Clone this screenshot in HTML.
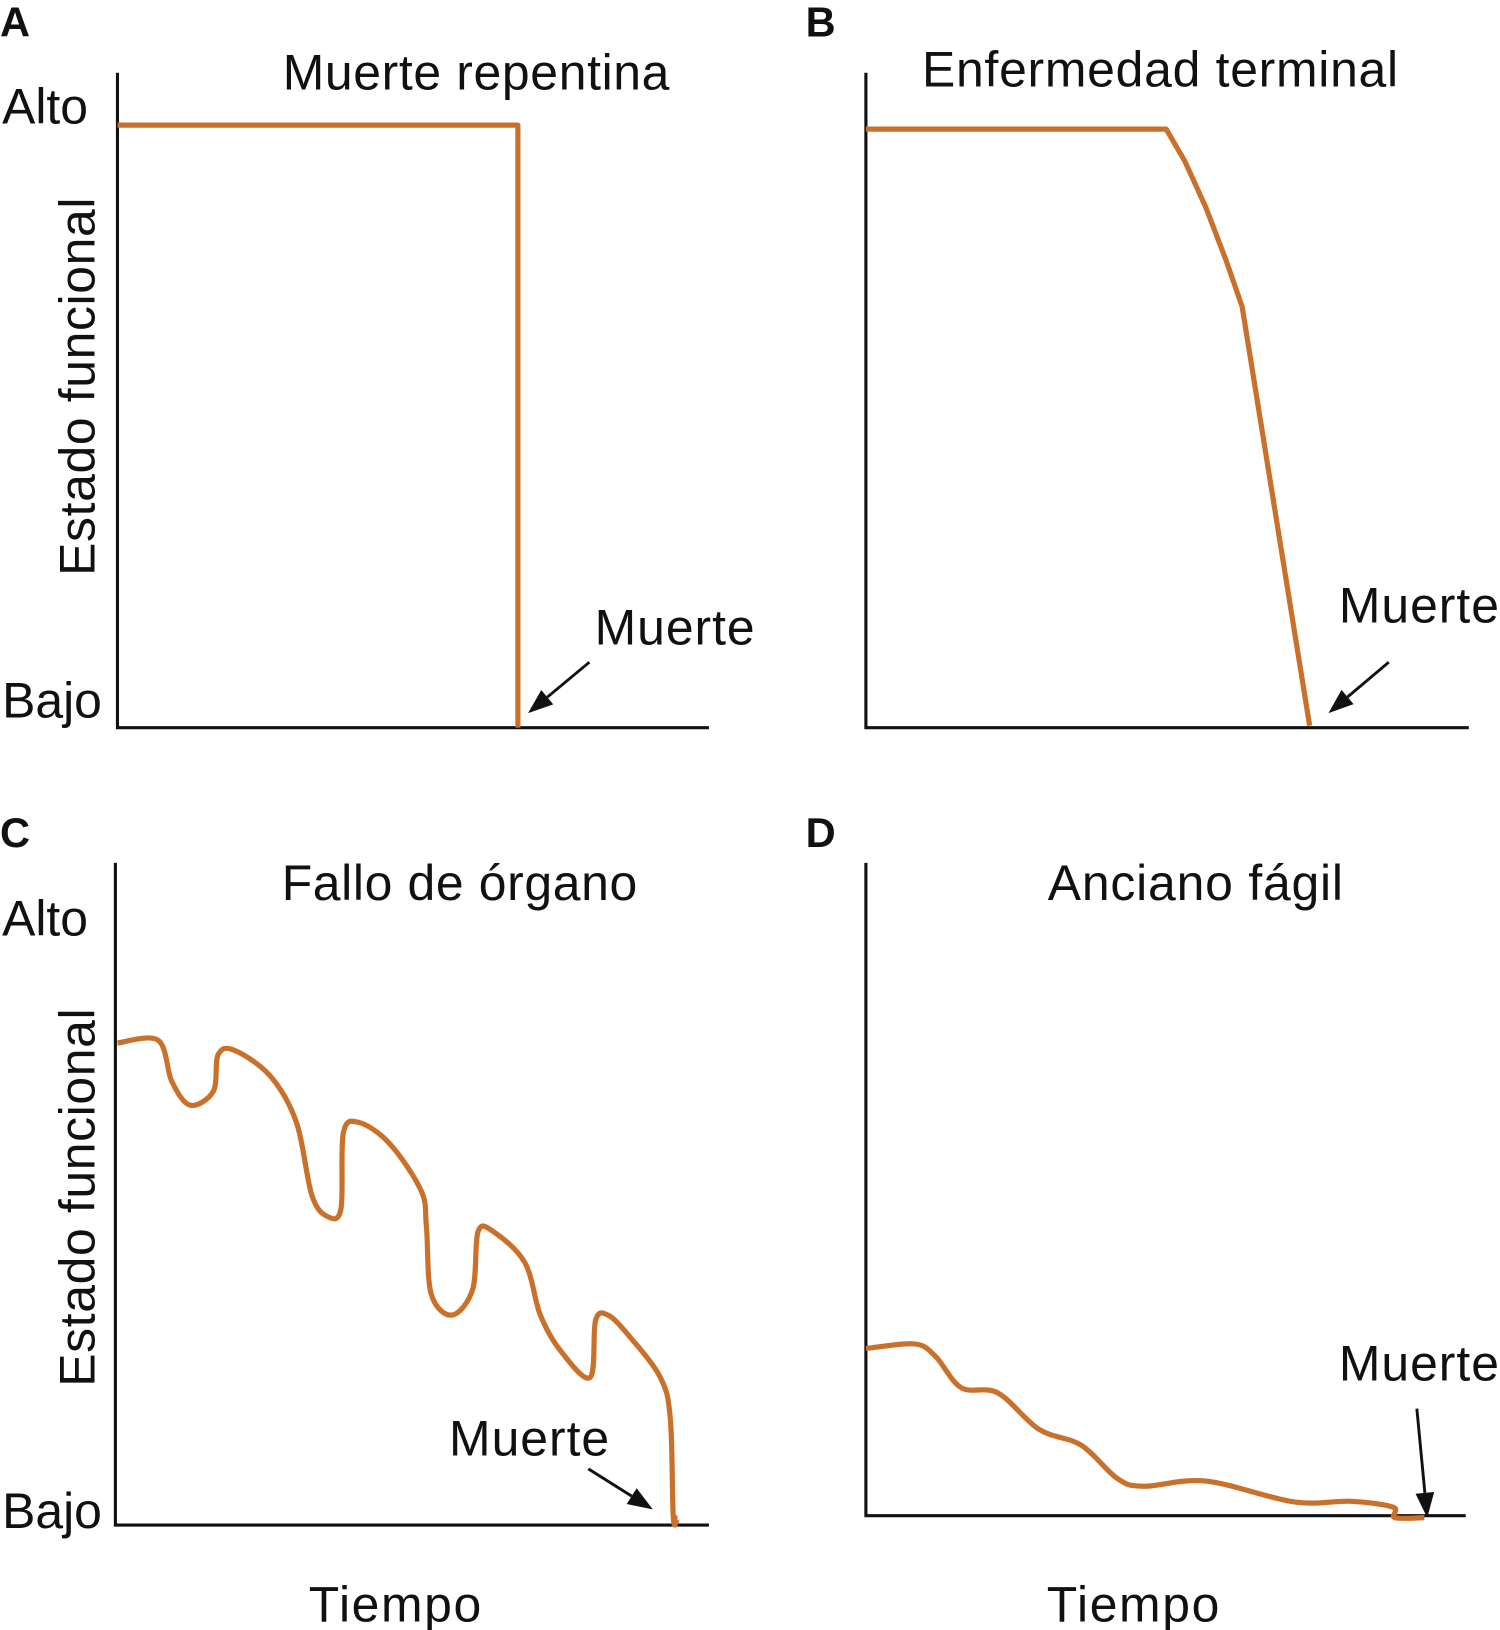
<!DOCTYPE html>
<html><head><meta charset="utf-8"><style>
html,body{margin:0;padding:0;background:#fff;}
svg{display:block;}
text{font-family:"Liberation Sans",Arial,sans-serif;fill:#111;}
</style></head><body>
<svg id="chart" width="1500" height="1630" viewBox="0 0 1443 1568" preserveAspectRatio="none" xmlns="http://www.w3.org/2000/svg">
<g id="static" font-size="48">
  <text x="0" y="35" font-weight="bold" font-size="40">A</text>
  <text x="775" y="35" font-weight="bold" font-size="40">B</text>
  <text x="0" y="815" font-weight="bold" font-size="40">C</text>
  <text x="775" y="815" font-weight="bold" font-size="40">D</text>
  <text x="458" y="86" text-anchor="middle" textLength="372">Muerte repentina</text>
  <text x="1116" y="83" text-anchor="middle" textLength="458">Enfermedad terminal</text>
  <text x="442" y="866" text-anchor="middle" textLength="342">Fallo de órgano</text>
  <text x="1150" y="866" text-anchor="middle" textLength="284">Anciano fágil</text>
  <text x="2" y="119">Alto</text>
  <text x="2" y="690">Bajo</text>
  <text x="2" y="900">Alto</text>
  <text x="2" y="1470">Bajo</text>
  <text transform="translate(91,372) rotate(-90)" text-anchor="middle" textLength="364">Estado funcional</text>
  <text transform="translate(91,1152) rotate(-90)" text-anchor="middle" textLength="364">Estado funcional</text>
  <text x="380" y="1560" text-anchor="middle" textLength="166">Tiempo</text>
  <text x="1090" y="1560" text-anchor="middle" textLength="166">Tiempo</text>
  <text x="572" y="620" textLength="154">Muerte</text>
  <text x="1288" y="599" textLength="154">Muerte</text>
  <text x="432" y="1400" textLength="154">Muerte</text>
  <text x="1288" y="1328" textLength="154">Muerte</text>
</g>
<g id="axes" stroke="#111" stroke-width="3" fill="none"></g>
<g id="series"></g>
<g id="arrows" stroke="#111" stroke-width="2.8"></g>
</svg>
<script>
// Data (time 0-100, functional value 0-100)
const timeA = [0, 67.7, 67.7];
const valA = [92, 92, 0];
const timeB = [0, 49.8, 52.9, 56.4, 59.8, 62.4, 73.6];
const valB = [91.4, 91.4, 86.5, 79.4, 71.2, 64.3, 0.3];
const timeC = [0.35,7.2,9.5,12.6,16.5,17.3,20.0,26.1,30.5,33.1,35.7,38.0,38.4,41.0,46.2,51.5,52.4,53.2,56.7,60.2,61.1,63.7,69.0,71.6,75.1,80.0,80.9,83.0,86.5,91.8,93.5,94.0,94.7];
const valC = [72.8,73.2,67.0,63.4,65.5,71.0,71.7,67.8,60.8,49.8,46.6,47.7,59.2,60.8,57.6,50.5,45.1,34.9,31.7,35.6,44.3,44.3,39.6,31.7,26.2,22.3,30.9,31.7,28.6,22.3,16.0,1.1,1.1];
const timeD = [0,8.1,11.6,15.9,22.0,28.9,35.9,41.9,46.3,56.7,71.4,80.9,87.9,88.2,93.1];
const valD = [25.6,26.3,24.4,19.6,18.8,13.2,10.8,5.7,4.5,5.3,2.1,2.2,1.3,-0.3,-0.3];

const NS = 'http://www.w3.org/2000/svg';
const panels = [
  {id:'a', x0:113, x1:682, y0:700, top:70, xs:5.69, ys:6.3, t:timeA, v:valA, smooth:false},
  {id:'b', x0:833, x1:1413, y0:700, top:70, xs:5.8, ys:6.3, t:timeB, v:valB, smooth:false},
  {id:'c', x0:111, x1:682, y0:1467, top:830, xs:5.71, ys:6.37, t:timeC, v:valC, smooth:true},
  {id:'d', x0:833, x1:1410, y0:1458, top:830, xs:5.77, ys:6.28, t:timeD, v:valD, smooth:true}
];
const axesG = document.getElementById('axes');
const seriesG = document.getElementById('series');
panels.forEach(p => {
  const xS = t => p.x0 + t * p.xs;
  const yS = v => p.y0 - v * p.ys;
  const ax = document.createElementNS(NS, 'path');
  ax.setAttribute('d', `M${p.x0},${p.top} L${p.x0},${p.y0} L${p.x1},${p.y0}`);
  
  
  axesG.appendChild(ax);
  const pts = p.t.map((t, i) => [xS(t), yS(p.v[i])]);
  let d = `M${pts[0][0]},${pts[0][1]}`;
  if (!p.smooth) {
    for (let i = 1; i < pts.length; i++) d += ` L${pts[i][0]},${pts[i][1]}`;
  } else {
    for (let i = 0; i < pts.length - 1; i++) {
      const p0 = pts[Math.max(i - 1, 0)], p1 = pts[i], p2 = pts[i + 1], p3 = pts[Math.min(i + 2, pts.length - 1)];
      const c1 = [p1[0] + (p2[0] - p0[0]) / 6, p1[1] + (p2[1] - p0[1]) / 6];
      const c2 = [p2[0] - (p3[0] - p1[0]) / 6, p2[1] - (p3[1] - p1[1]) / 6];
      d += ` C${c1[0]},${c1[1]} ${c2[0]},${c2[1]} ${p2[0]},${p2[1]}`;
    }
  }
  const path = document.createElementNS(NS, 'path');
  path.setAttribute('d', d);
  path.setAttribute('fill', 'none');
  path.setAttribute('stroke', '#c9712b');
  path.setAttribute('stroke-width', '5');
  path.setAttribute('stroke-linejoin', 'round');
  
  
  seriesG.appendChild(path);
});
const arrowsG = document.getElementById('arrows');
const arrowDefs = [
  ['a', 567, 637, 508, 686], ['b', 1336, 637, 1278, 686],
  ['c', 566, 1413, 628, 1452], ['d', 1363, 1355, 1373, 1460]
];
arrowDefs.forEach(a => {
  const [id, x1, y1, x2, y2] = a;
  const ang = Math.atan2(y2 - y1, x2 - x1), L = 24, W = 9;
  const bx = x2 - L * Math.cos(ang), by = y2 - L * Math.sin(ang);
  const g = document.createElementNS(NS, 'g');
  
  
  const ln = document.createElementNS(NS, 'line');
  ln.setAttribute('x1', x1); ln.setAttribute('y1', y1);
  ln.setAttribute('x2', bx); ln.setAttribute('y2', by);
  g.appendChild(ln);
  const hd = document.createElementNS(NS, 'polygon');
  const px = -Math.sin(ang) * W, py = Math.cos(ang) * W;
  hd.setAttribute('points', `${x2},${y2} ${bx + px},${by + py} ${bx - px},${by - py}`);
  hd.setAttribute('fill', '#111');
  hd.setAttribute('stroke', 'none');
  g.appendChild(hd);
  arrowsG.appendChild(g);
});
</script>
</body></html>
